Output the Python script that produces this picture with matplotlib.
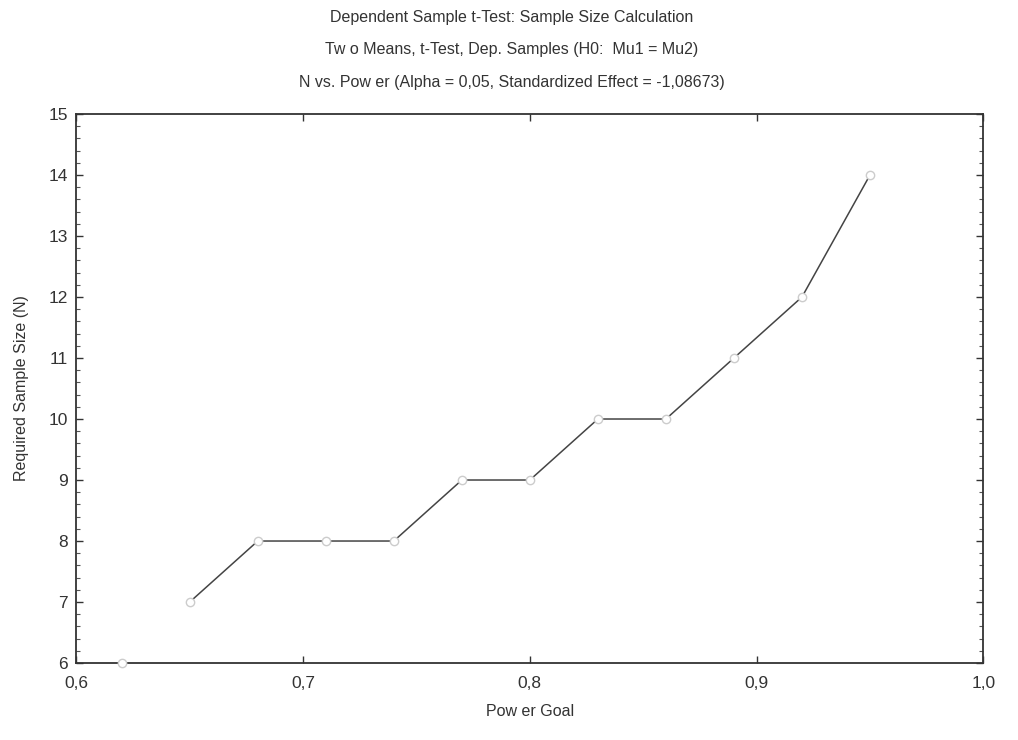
import numpy as np
import matplotlib.pyplot as plt
from matplotlib.ticker import MultipleLocator, FuncFormatter

plt.rcParams['font.family'] = ['Liberation Sans', 'DejaVu Sans']

power = [0.62, 0.65, 0.68, 0.71, 0.74, 0.77, 0.80, 0.83, 0.86, 0.89, 0.92, 0.95]
n_required = [6, 7, 8, 8, 8, 9, 9, 10, 10, 11, 12, 14]
title_lines = ["Dependent Sample t-Test: Sample Size Calculation",
               "Tw o Means, t-Test, Dep. Samples (H0:  Mu1 = Mu2)",
               "N vs. Pow er (Alpha = 0,05, Standardized Effect = -1,08673)"]

fig = plt.figure(figsize=(10.18, 7.4), dpi=100)
ax = fig.add_axes([0.075, 0.104, 0.891, 0.742])

# line starts at the second point, first point sits on the axis
ax.plot(power[1:], n_required[1:], color='#444444', lw=1.1, zorder=2)
ax.plot(power, n_required, ls='none', marker='o', ms=6, mfc='white',
        mec='#cccccc', mew=1, zorder=3, clip_on=False)

ax.set_xlim(0.6, 1.0)
ax.set_ylim(6, 15)
ax.xaxis.set_major_locator(MultipleLocator(0.1))
ax.yaxis.set_major_locator(MultipleLocator(1))
ax.yaxis.set_minor_locator(MultipleLocator(0.2))
comma = FuncFormatter(lambda v, p: ('%.1f' % v).replace('.', ','))
ax.xaxis.set_major_formatter(comma)
ax.yaxis.set_major_formatter(FuncFormatter(lambda v, p: '%d' % v))
ax.tick_params(axis='both', which='major', direction='in', length=5,
               width=1, labelsize=12.5, colors='#333333', top=True, right=True,
               pad=6)
ax.tick_params(axis='x', which='major', pad=9)
ax.tick_params(axis='y', which='minor', direction='in', length=3,
               width=0.8, right=True, colors='#555555')
for s in ax.spines.values():
    s.set_color('#333333')
    s.set_linewidth(1.3)

ax.set_xlabel("Pow er Goal", fontsize=11.5, color='#333333', labelpad=10)
ax.set_ylabel("Required Sample Size (N)", fontsize=11.5, color='#333333', labelpad=14)

for i, t in enumerate(title_lines):
    fig.text(0.503, 0.977 - i * 0.044, t, ha='center', va='center',
             fontsize=11.5, color='#333333')

fig.savefig('out.png', dpi=100)
